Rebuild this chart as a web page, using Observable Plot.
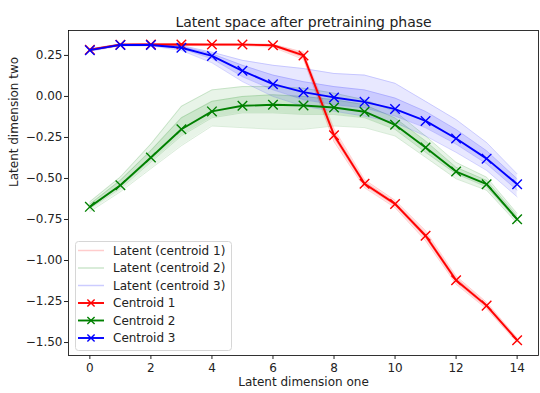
<!DOCTYPE html>
<html><head><meta charset="utf-8">
<script src="https://cdn.jsdelivr.net/npm/d3@7"></script>
<script src="https://cdn.jsdelivr.net/npm/@observablehq/plot@0.6"></script>
<style>
body{margin:0;background:#fff;font-family:"DejaVu Sans",sans-serif;}
#wrap{position:relative;width:540px;height:393px;}
#legend{position:absolute;left:75px;top:241px;}
</style></head><body><div id="wrap"></div>
<script>
// ---- data ----
const dims = [0,1,2,3,4,5,6,7,8,9,10,11,12,13,14];
const xTicks = [0,2,4,6,8,10,12,14];
const yTicks = [0.25,0,-0.25,-0.5,-0.75,-1,-1.25,-1.5];

const centroid1 = [0.285,0.315,0.317,0.317,0.316,0.316,0.312,0.250,-0.236,-0.532,-0.655,-0.849,-1.120,-1.275,-1.486];
const centroid2 = [-0.673,-0.541,-0.372,-0.200,-0.091,-0.057,-0.051,-0.055,-0.067,-0.093,-0.173,-0.311,-0.458,-0.535,-0.748];
const centroid3 = [0.282,0.314,0.314,0.297,0.247,0.156,0.075,0.026,-0.006,-0.033,-0.077,-0.149,-0.256,-0.379,-0.535];

// latent trajectories (estimated envelope and inner lines per cluster)
const latent1Hi = [0.290,0.320,0.322,0.322,0.322,0.321,0.318,0.270,-0.196,-0.507,-0.633,-0.819,-1.095,-1.255,-1.471];
const latent1Mh = [0.288,0.318,0.320,0.320,0.319,0.319,0.315,0.260,-0.216,-0.520,-0.645,-0.834,-1.107,-1.265,-1.478];
const latent1Ml = [0.282,0.312,0.314,0.314,0.313,0.313,0.308,0.238,-0.253,-0.544,-0.665,-0.862,-1.132,-1.285,-1.493];
const latent1Lo = [0.280,0.310,0.310,0.310,0.310,0.310,0.300,0.225,-0.276,-0.557,-0.678,-0.879,-1.145,-1.295,-1.501];

const latent2Hi = [-0.642,-0.491,-0.290,-0.060,0.040,0.060,0.060,0.050,0.020,-0.020,-0.091,-0.241,-0.402,-0.492,-0.713];
const latent2Mh = [-0.657,-0.511,-0.330,-0.130,-0.030,0.000,0.010,0.000,-0.020,-0.050,-0.131,-0.271,-0.432,-0.512,-0.728];
const latent2Ml = [-0.682,-0.561,-0.400,-0.240,-0.130,-0.100,-0.100,-0.110,-0.110,-0.130,-0.201,-0.341,-0.472,-0.552,-0.758];
const latent2Lo = [-0.702,-0.581,-0.440,-0.300,-0.180,-0.190,-0.200,-0.200,-0.180,-0.190,-0.241,-0.371,-0.502,-0.572,-0.773];

const latent3Hi = [0.290,0.320,0.320,0.310,0.270,0.220,0.190,0.170,0.140,0.130,0.080,-0.030,-0.141,-0.281,-0.472];
const latent3Mh = [0.286,0.317,0.317,0.305,0.260,0.190,0.130,0.090,0.060,0.040,-0.010,-0.091,-0.201,-0.331,-0.502];
const latent3Ml = [0.278,0.311,0.311,0.290,0.230,0.120,0.040,-0.020,-0.050,-0.070,-0.120,-0.191,-0.291,-0.411,-0.572];
const latent3Lo = [0.275,0.308,0.308,0.280,0.205,0.090,0.000,-0.060,-0.090,-0.120,-0.160,-0.241,-0.341,-0.451,-0.612];

const colors = ["#ff0000","#008000","#0000ff"];
const legendLabels = ["Latent (centroid 1)","Latent (centroid 2)","Latent (centroid 3)","Centroid 1","Centroid 2","Centroid 3"];

// ---- build tables ----
const centroids = [centroid1,centroid2,centroid3];
const latents = [
  [latent1Hi,latent1Mh,latent1Ml,latent1Lo],
  [latent2Hi,latent2Mh,latent2Ml,latent2Lo],
  [latent3Hi,latent3Mh,latent3Ml,latent3Lo]
];
const bands = [];
const latentRows = [];
const centroidRows = [];
latents.forEach((set,c)=>{
  dims.forEach((d,i)=>{
    bands.push({x:d, lo:set[3][i], hi:set[0][i], mlo:set[2][i], mhi:set[1][i], c});
  });
  set.forEach((arr,k)=>arr.forEach((v,i)=>latentRows.push({x:dims[i], y:v, c, k:c*10+k})));
});
centroids.forEach((arr,c)=>arr.forEach((v,i)=>centroidRows.push({x:dims[i], y:v, c})));

const marks = [];
for (let c=0;c<3;c++){
  const b = bands.filter(d=>d.c===c);
  marks.push(Plot.areaY(b,{x:"x", y1:"lo", y2:"hi", fill:colors[c], fillOpacity:0.09, curve:"linear"}));
  marks.push(Plot.areaY(b,{x:"x", y1:"mlo", y2:"mhi", fill:colors[c], fillOpacity:0.12, curve:"linear"}));
  marks.push(Plot.line(latentRows.filter(d=>d.c===c),{x:"x", y:"y", z:"k", stroke:colors[c], strokeOpacity:0.15, strokeWidth:1}));
}
for (let c=0;c<3;c++){
  const r = centroidRows.filter(d=>d.c===c);
  marks.push(Plot.line(r,{x:"x", y:"y", stroke:colors[c], strokeWidth:1.9}));
  marks.push(Plot.dot(r,{x:"x", y:"y", symbol:"times", r:4.4, stroke:colors[c], strokeWidth:1.4}));
}

const chart = Plot.plot({
  width:540, height:393,
  marginLeft:68, marginRight:2, marginTop:30, marginBottom:38,
  style:{fontFamily:"DejaVu Sans, sans-serif", fontSize:"12px", color:"#222", background:"#fff"},
  x:{domain:[-0.7,14.7]},
  y:{domain:[-1.579,0.402]},
  marks:[
    ...marks,
    Plot.frame({stroke:"#000", strokeWidth:0.8}),
    Plot.axisX({ticks:xTicks, tickSize:4, tickPadding:4, label:null, fontSize:12}),
    Plot.axisY({ticks:yTicks, tickSize:4, tickPadding:2, tickFormat:d3.format(".2f"), label:null, fontSize:12}),
    Plot.text(["Latent dimension one"],{frameAnchor:"bottom", dy:30, fontSize:12, fill:"#222"}),
    Plot.text(["Latent dimension two"],{frameAnchor:"left", dx:-54, dy:-6, rotate:-90, fontSize:12, fill:"#222"}),
    Plot.text(["Latent space after pretraining phase"],{frameAnchor:"top", dy:-13.5, fontSize:14, fill:"#222"})
  ]
});
const wrap = document.getElementById("wrap");
wrap.appendChild(chart);

// legend
const lg = document.createElement("div");
lg.id = "legend";
const ns = "http://www.w3.org/2000/svg";
const svg = document.createElementNS(ns,"svg");
svg.setAttribute("width","158"); svg.setAttribute("height","111");
svg.style.display="block";
const box = document.createElementNS(ns,"rect");
box.setAttribute("x","0.5"); box.setAttribute("y","0.5"); box.setAttribute("width","156"); box.setAttribute("height","109");
box.setAttribute("rx","3"); box.setAttribute("fill","rgba(255,255,255,0.8)"); box.setAttribute("stroke","#d6d6d6");
svg.appendChild(box);
const rowY = [9.5,27,44.5,62,79.5,97];
legendLabels.forEach((lab,i)=>{
  const c = colors[i%3];
  const y = rowY[i];
  const ln = document.createElementNS(ns,"line");
  ln.setAttribute("x1","3"); ln.setAttribute("x2","29"); ln.setAttribute("y1",y); ln.setAttribute("y2",y);
  ln.setAttribute("stroke",c);
  if (i<3){ ln.setAttribute("stroke-opacity","0.2"); ln.setAttribute("stroke-width","1.5"); }
  else { ln.setAttribute("stroke-width","1.9"); }
  svg.appendChild(ln);
  if (i>=3){
    const p = document.createElementNS(ns,"path");
    const s=3.6;
    p.setAttribute("d",`M${16-s},${y-s}L${16+s},${y+s}M${16-s},${y+s}L${16+s},${y-s}`);
    p.setAttribute("stroke",c); p.setAttribute("stroke-width","1.4");
    svg.appendChild(p);
  }
  const t = document.createElementNS(ns,"text");
  t.setAttribute("x","38"); t.setAttribute("y",y); t.setAttribute("dy","0.35em");
  t.setAttribute("font-size","12"); t.setAttribute("fill","#222");
  t.setAttribute("font-family","DejaVu Sans, sans-serif");
  t.textContent = lab;
  svg.appendChild(t);
});
lg.appendChild(svg);
wrap.appendChild(lg);
</script></body></html>
